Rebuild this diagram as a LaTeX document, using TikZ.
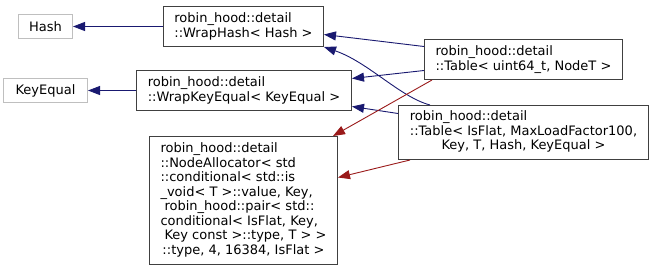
\documentclass[tikz,border=0pt]{standalone}
\usepackage{fontspec}
\setmainfont{DejaVu Sans}
\usepackage{xcolor}
\usetikzlibrary{arrows.meta}

\definecolor{inhblue}{RGB}{25,25,112}
\definecolor{usered}{RGB}{154,26,26}

\begin{document}
\begin{tikzpicture}[
  x=1pt, y=-1pt,
  box/.style={draw=black!75, line width=1pt, fill=white, align=left, inner sep=0pt, anchor=north west,
    font=\fontsize{13}{14.5}\selectfont},
  extbox/.style={box, draw=black!25},
  inherit/.style={-{Triangle[length=12pt, width=9pt]}, draw=inhblue, line width=0.9pt},
  uses/.style={-{Triangle[length=12pt, width=9pt]}, draw=usered, line width=0.9pt}
]
\useasboundingbox (0,0) rectangle (653,271);
\node[extbox, minimum width=54pt, minimum height=24pt] (hash) at (18,14) {Hash};
\node[extbox, minimum width=84pt, minimum height=24pt] (keyequal) at (3,78) {KeyEqual};
\node[box, minimum width=160pt, minimum height=40pt] (wraphash) at (163,6) {robin\_hood::detail\\::WrapHash< Hash >};
\node[box, minimum width=215pt, minimum height=40pt] (wrapkeyequal) at (136,70) {robin\_hood::detail\\::WrapKeyEqual< KeyEqual >};
\node[box, minimum width=198pt, minimum height=40pt] (tableuint) at (424,39) {robin\_hood::detail\\::Table< uint64\_t, NodeT >};
\node[box, minimum width=250pt, minimum height=54pt] (tableflat) at (398,105)
  {\begin{tabular}{@{}l@{}}robin\_hood::detail\\::Table< IsFlat, MaxLoadFactor100,\\\multicolumn{1}{@{}c@{}}{Key, T, Hash, KeyEqual >}\end{tabular}};
\node[box, minimum width=188pt, minimum height=128pt] (nodealloc) at (149,136)
  {\begin{tabular}{@{}l@{}}robin\_hood::detail\\::NodeAllocator< std\\::conditional< std::is\\\_void< T >::value, Key,\\\hspace*{4pt}robin\_hood::pair< std::\\conditional< IsFlat, Key,\\\hspace*{4pt}Key const >::type, T > >\\\multicolumn{1}{@{}c@{}}{::type, 4, 16384, IsFlat >}\end{tabular}};
\draw[inherit] (wraphash.west) -- (hash.east);
\draw[inherit] (wrapkeyequal.west) -- (keyequal.east);
\draw[inherit] ([yshift=13pt]tableuint.west) -- ([yshift=-8pt]wraphash.east);
\draw[inherit] ([xshift=32pt]tableflat.north west) .. controls (400,97) and (368,62) .. (wraphash.south east);
\draw[inherit] ([yshift=-11pt]tableuint.west) -- ([yshift=12pt]wrapkeyequal.east);
\draw[inherit] ([yshift=19pt]tableflat.west) -- ([yshift=-16pt]wrapkeyequal.east);
\draw[uses] ([xshift=8pt]tableuint.south west) -- ([xshift=-5pt]nodealloc.north east);
\draw[uses] ([xshift=12pt]tableflat.south west) -- ([yshift=23pt]nodealloc.east);
\end{tikzpicture}
\end{document}
